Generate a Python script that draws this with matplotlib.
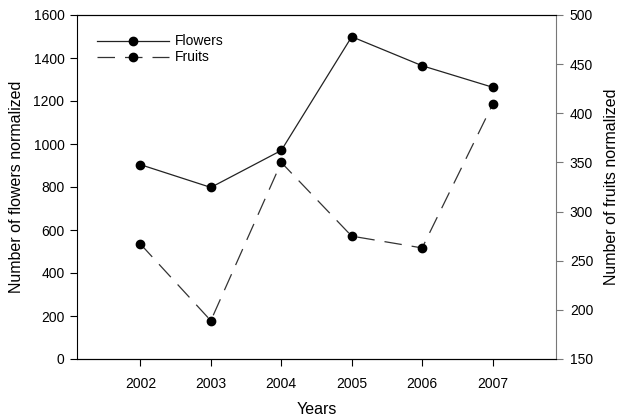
import matplotlib
matplotlib.use('Agg')
import matplotlib.pyplot as plt

plt.rcParams['font.family'] = ['Liberation Sans', 'DejaVu Sans']

# Données
years = [2002, 2003, 2004, 2005, 2006, 2007]
flowers = [904, 798, 970, 1499, 1364, 1264]
fruits = [267, 189, 350, 275, 263, 409]

fig = plt.figure(figsize=(6.2, 4.18), dpi=100)
ax = fig.add_axes([77 / 620, 1 - 359 / 418, (556 - 77) / 620, (359 - 15) / 418])
ax2 = ax.twinx()

l1, = ax.plot(years, flowers, color='#222222', lw=0.9, marker='o', ms=6,
              mfc='black', mec='black', label='Flowers')
l2, = ax2.plot(years, fruits, color='#333333', lw=0.9, marker='o', ms=6,
               mfc='black', mec='black', dashes=(14, 8), label='Fruits')

ax.set_xlim(2001.1, 2007.9)
ax.set_ylim(0, 1600)
ax2.set_ylim(150, 500)
ax.set_xticks(years)
ax.set_yticks(range(0, 1601, 200))
ax2.set_yticks(range(150, 501, 50))

ax.set_xlabel('Years', fontsize=11.5, labelpad=8)
ax.set_ylabel('Number of flowers normalized', fontsize=11.5, labelpad=7)
ax2.set_ylabel('Number of fruits normalized', fontsize=11.5, labelpad=8)

for a in (ax, ax2):
    a.tick_params(direction='out', length=5, width=0.8, labelsize=10, pad=4)
ax.tick_params(axis='x', pad=8)
ax.spines['right'].set_visible(False)
ax2.spines['left'].set_visible(False)
ax2.spines['right'].set_color('#777777')
ax2.tick_params(axis='y', color='#777777', pad=5)

ax.legend([l1, l2], ['Flowers', 'Fruits'], loc='upper left', frameon=False,
          fontsize=10, handlelength=5.2, handletextpad=0.4, labelspacing=0.15,
          bbox_to_anchor=(0.015, 0.98))

fig.savefig('out.png', dpi=100)
